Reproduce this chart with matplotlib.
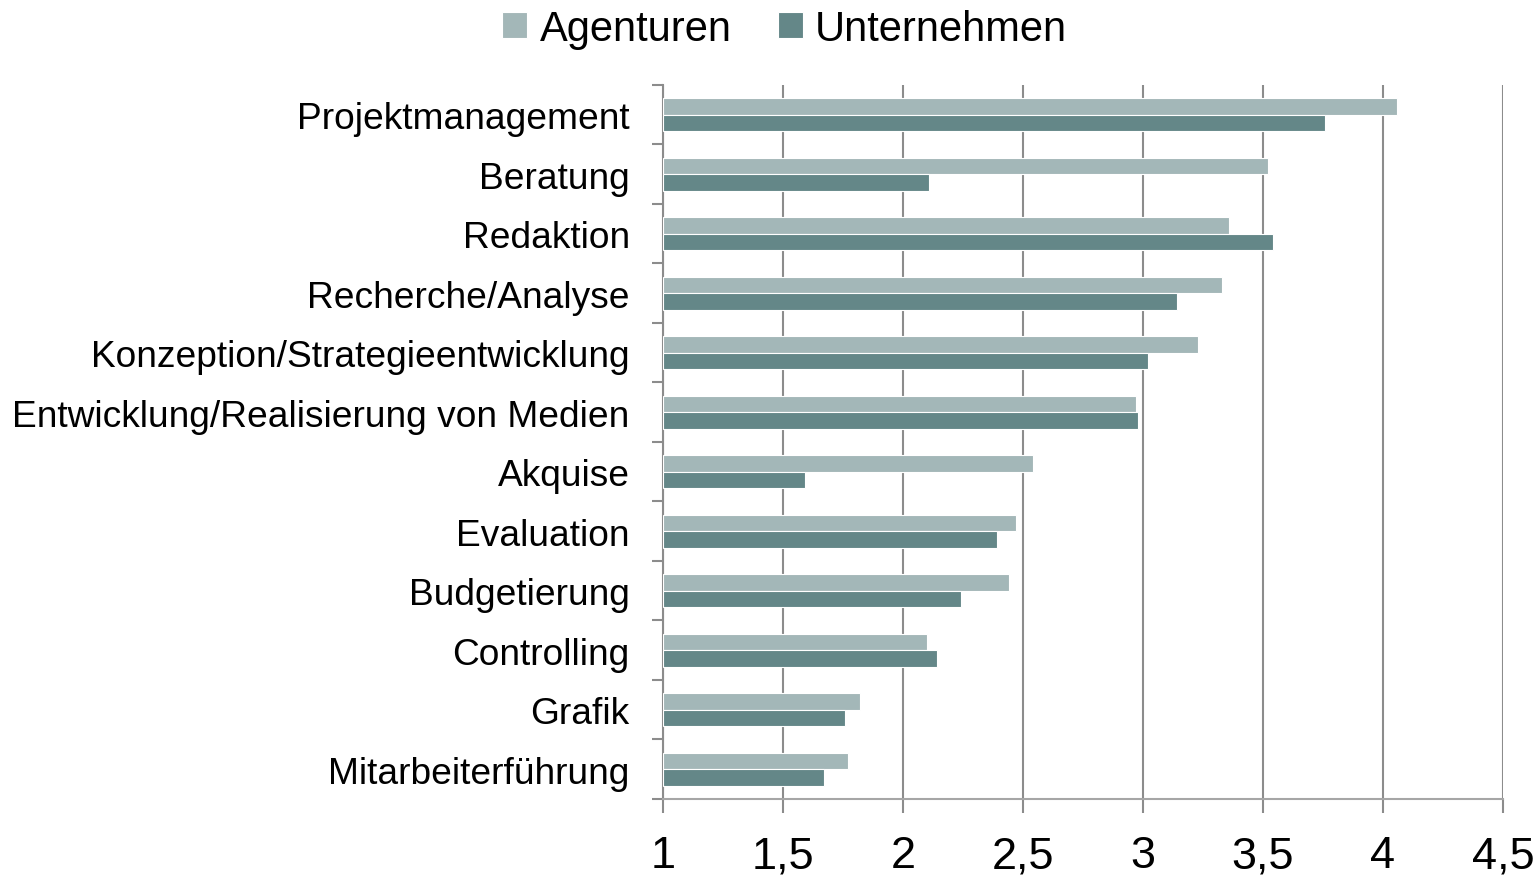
import numpy as np
import matplotlib.pyplot as plt
import matplotlib.ticker as mtick

plt.rcParams['font.family'] = ['Liberation Sans', 'DejaVu Sans']

categories = ['Projektmanagement', 'Beratung', 'Redaktion', 'Recherche/Analyse',
              'Konzeption/Strategieentwicklung', 'Entwicklung/Realisierung von Medien',
              'Akquise', 'Evaluation', 'Budgetierung', 'Controlling', 'Grafik',
              'Mitarbeiterführung']
agenturen = [4.06, 3.52, 3.36, 3.33, 3.23, 2.97, 2.54, 2.47, 2.44, 2.10, 1.82, 1.77]
unternehmen = [3.76, 2.11, 3.54, 3.14, 3.02, 2.98, 1.59, 2.39, 2.24, 2.14, 1.76, 1.67]
xticks = [1, 1.5, 2, 2.5, 3, 3.5, 4, 4.5]

col_a = '#a3b7b8'
col_u = '#648788'
grid_col = '#8c8c8c'

fig = plt.figure(figsize=(15.4, 8.79), dpi=100)
ax = fig.add_axes([0.4305, 0.0899, 0.5455, 0.8123])

y = np.arange(len(categories))
h = 0.28
ax.barh(y - h/2, np.array(agenturen) - 1, height=h, left=1, color=col_a,
        edgecolor='white', linewidth=0.8, label='Agenturen', zorder=3)
ax.barh(y + h/2, np.array(unternehmen) - 1, height=h, left=1, color=col_u,
        edgecolor='white', linewidth=0.8, label='Unternehmen', zorder=3)

ax.set_xlim(1, 4.5)
ax.set_ylim(len(categories) - 0.5, -0.5)
ax.set_xticks(xticks)
ax.set_xticklabels([('%g' % v).replace('.', ',') for v in xticks], fontsize=32.5)
ax.set_yticks(y)
ax.set_yticklabels(categories, fontsize=26.7)
ax.set_yticks(np.arange(len(categories) + 1) - 0.5, minor=True)

ax.grid(axis='x', color=grid_col, linewidth=1.5, zorder=0)
ax.tick_params(axis='y', which='major', length=0, pad=24)
ax.tick_params(axis='y', which='minor', length=8, width=1.5, color=grid_col)
ax.tick_params(axis='x', length=10, width=1.5, color=grid_col, pad=16)

for s in ['top', 'right']:
    ax.spines[s].set_visible(False)
ax.spines['left'].set_color(grid_col)
ax.spines['left'].set_linewidth(1.5)
ax.spines['bottom'].set_color('#a6a6a6')
ax.spines['bottom'].set_linewidth(1.5)

ax.legend(loc='upper center', bbox_to_anchor=(0.145, 1.13), ncol=2, frameon=False,
          fontsize=30, handlelength=0.6, handleheight=0.6, handletextpad=0.3,
          columnspacing=1.1, borderaxespad=0)

fig.savefig('out.png', dpi=100)
